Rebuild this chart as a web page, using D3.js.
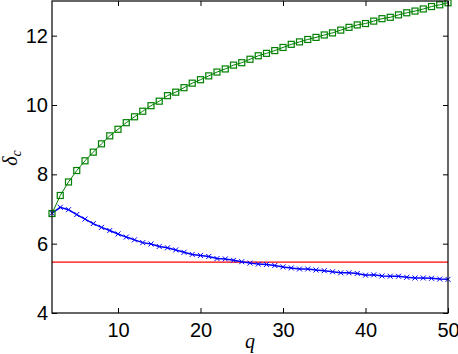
<!DOCTYPE html>
<html>
<head>
<meta charset="utf-8">
<script src="https://cdn.jsdelivr.net/npm/d3@7"></script>
<style>
  body { margin: 0; background: #fff; }
  svg { display: block; }
  .tick text { font-family: "Liberation Sans", Arial, sans-serif; font-size: 20px; fill: #000; }
</style>
</head>
<body>
<div class="canvas"></div>
<script>
const qValues = d3.range(2, 51);

const upperSeries = [
  6.87, 7.39, 7.78, 8.11, 8.39, 8.64, 8.88, 9.11, 9.30, 9.49,
  9.66, 9.82, 9.98, 10.11, 10.27, 10.37, 10.50, 10.63, 10.73, 10.84,
  10.95, 11.04, 11.15, 11.22, 11.32, 11.42, 11.49, 11.57, 11.66, 11.75,
  11.82, 11.89, 11.95, 12.02, 12.08, 12.16, 12.24, 12.31, 12.35, 12.42,
  12.49, 12.53, 12.60, 12.66, 12.71, 12.77, 12.84, 12.89, 12.95
];

const lowerSeries = [
  6.88, 7.05, 6.98, 6.84, 6.71, 6.58, 6.47, 6.38, 6.28, 6.19,
  6.11, 6.03, 5.99, 5.92, 5.88, 5.82, 5.75, 5.69, 5.66, 5.63,
  5.57, 5.56, 5.52, 5.48, 5.44, 5.41, 5.40, 5.37, 5.33, 5.30,
  5.27, 5.27, 5.24, 5.22, 5.19, 5.16, 5.16, 5.14, 5.09, 5.10,
  5.07, 5.06, 5.06, 5.03, 5.01, 5.01, 5.00, 4.98, 4.97
];

const thresholdValue = 5.47;

const xTicks = [10, 20, 30, 40, 50];
const yTicks = [4, 6, 8, 10, 12];

const width = 458;
const height = 354;
const margin = { top: 1, right: 10, bottom: 41, left: 52 };

const svg = d3.select('.canvas')
  .append('svg')
  .attr('width', width)
  .attr('height', height);

const x = d3.scaleLinear()
  .domain([2, 50])
  .range([margin.left, width - margin.right]);

const y = d3.scaleLinear()
  .domain([4, 13])
  .range([height - margin.bottom, margin.top]);

const upper = qValues.map((q, i) => ({ q, v: upperSeries[i] }));
const lower = qValues.map((q, i) => ({ q, v: lowerSeries[i] }));

const line = d3.line().x(d => x(d.q)).y(d => y(d.v));

// red reference line
svg.append('line')
  .attr('x1', x(2)).attr('x2', x(50))
  .attr('y1', y(thresholdValue)).attr('y2', y(thresholdValue))
  .attr('stroke', '#ff0000')
  .attr('stroke-width', 1.2);

// blue series with x markers
svg.append('path')
  .datum(lower)
  .attr('d', line)
  .attr('fill', 'none')
  .attr('stroke', '#0000ff')
  .attr('stroke-width', 1.5);

svg.append('g')
  .selectAll('path')
  .data(lower)
  .join('path')
  .attr('transform', d => `translate(${x(d.q)}, ${y(d.v)})`)
  .attr('d', 'M-2.5,-2.5L2.5,2.5M-2.5,2.5L2.5,-2.5')
  .attr('stroke', '#0000ff')
  .attr('stroke-width', 1);

// green series with square markers
svg.append('path')
  .datum(upper)
  .attr('d', line)
  .attr('fill', 'none')
  .attr('stroke', '#008000')
  .attr('stroke-width', 1);

svg.append('g')
  .selectAll('rect')
  .data(upper)
  .join('rect')
  .attr('x', d => x(d.q) - 3)
  .attr('y', d => y(d.v) - 3)
  .attr('width', 6)
  .attr('height', 6)
  .attr('fill', 'none')
  .attr('stroke', '#008000')
  .attr('stroke-width', 1.2);

// axes with inward ticks
const bottom = svg.append('g')
  .attr('transform', `translate(0, ${height - margin.bottom})`)
  .call(d3.axisBottom(x).tickValues(xTicks).tickSizeInner(-5).tickSizeOuter(0).tickPadding(10));

const left = svg.append('g')
  .attr('transform', `translate(${margin.left}, 0)`)
  .call(d3.axisLeft(y).tickValues(yTicks).tickSizeInner(-5).tickSizeOuter(0).tickPadding(4));

svg.append('g')
  .attr('transform', `translate(0, ${margin.top})`)
  .call(d3.axisTop(x).tickValues(xTicks).tickSizeInner(-5).tickSizeOuter(0).tickFormat(''));

svg.append('g')
  .attr('transform', `translate(${width - margin.right}, 0)`)
  .call(d3.axisRight(y).tickValues(yTicks).tickSizeInner(-5).tickSizeOuter(0).tickFormat(''));

svg.selectAll('.domain').remove();
svg.selectAll('.tick line').attr('stroke', '#000');

svg.append('rect')
  .attr('x', margin.left)
  .attr('y', margin.top)
  .attr('width', width - margin.left - margin.right)
  .attr('height', height - margin.top - margin.bottom)
  .attr('fill', 'none')
  .attr('stroke', '#000')
  .attr('stroke-width', 1.2);

// axis labels
svg.append('text')
  .attr('x', 250)
  .attr('y', 348)
  .attr('text-anchor', 'middle')
  .attr('font-family', '"Liberation Serif", "DejaVu Serif", serif')
  .attr('font-style', 'italic')
  .attr('font-size', 20)
  .text('q');

const yLabel = svg.append('text')
  .attr('transform', 'translate(17, 158) rotate(-90)')
  .attr('text-anchor', 'middle')
  .attr('font-family', '"Liberation Serif", "DejaVu Serif", serif')
  .attr('font-style', 'italic')
  .attr('font-size', 20);

yLabel.append('tspan').text('δ');
yLabel.append('tspan')
  .attr('font-size', 14)
  .attr('dy', 4)
  .text('c');
</script>
</body>
</html>
